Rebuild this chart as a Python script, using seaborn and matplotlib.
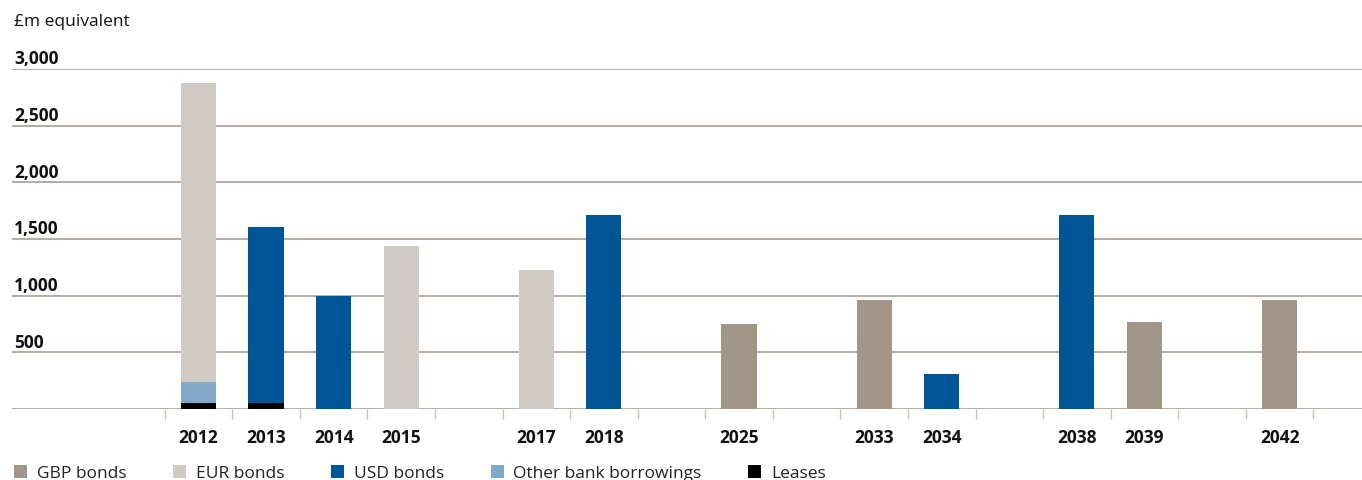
import numpy as np
import pandas as pd
import seaborn as sns
import matplotlib.pyplot as plt
from matplotlib.patches import Patch

# maturity years (with empty slots on the axis where no debt matures)
slots = ["2012", "2013", "2014", "2015", None, "2017", "2018", None, "2025", None,
         "2033", "2034", None, "2038", "2039", None, "2042"]
years = ["2012", "2013", "2014", "2015", "2017", "2018", "2025", "2033", "2034", "2038", "2039", "2042"]

# £m equivalent
gbp_bonds = [0, 0, 0, 0, 0, 0, 750, 965, 0, 0, 770, 965]
eur_bonds = [2640, 0, 0, 1440, 1225, 0, 0, 0, 0, 0, 0, 0]
usd_bonds = [0, 1555, 1000, 0, 0, 1715, 0, 0, 310, 1715, 0, 0]
other_bank = [185, 0, 0, 0, 0, 0, 0, 0, 0, 0, 0, 0]
leases = [50, 50, 0, 0, 0, 0, 0, 0, 0, 0, 0, 0]

series_names = ["GBP bonds", "EUR bonds", "USD bonds", "Other bank borrowings", "Leases"]
colours = {"GBP bonds": "#a19588", "EUR bonds": "#cfcac4", "USD bonds": "#005596",
           "Other bank borrowings": "#7fa8c9", "Leases": "#000000"}

sns.set_theme(style="white")
plt.rcParams["font.family"] = ["Open Sans", "DejaVu Sans"]

# stack bottom -> top : leases, other, then the bonds
stack = [("Leases", leases), ("Other bank borrowings", other_bank),
         ("GBP bonds", gbp_bonds), ("EUR bonds", eur_bonds), ("USD bonds", usd_bonds)]
df = pd.DataFrame({"year": years})
running = np.zeros(len(years))
for name, vals in stack:
    running = running + np.array(vals)
    df[name] = np.where(np.array(vals) > 0, running, np.nan)

order = [s if s else f"_gap{i}" for i, s in enumerate(slots)]

fig = plt.figure(figsize=(13.62, 4.81), dpi=100)
ax = fig.add_axes([12 / 1362, 1 - 410 / 481, 1350 / 1362, 340 / 481])

# draw tallest cumulative layer first, then overlay the lower parts
for name, _ in reversed(stack):
    sub = df.dropna(subset=[name])
    sns.barplot(data=sub, x="year", y=name, order=order, color=colours[name],
                width=0.52, saturation=1, linewidth=0, ax=ax, zorder=3)

ax.set_ylim(0, 3000)
ax.set_xlim(-2.76, 17.22)
ax.set_yticks(np.arange(0, 3001, 500))
ax.yaxis.grid(True, color="#a89e94", linewidth=1.2)
ax.xaxis.grid(False)
ax.set_axisbelow(True)
for s in ax.spines.values():
    s.set_visible(False)

ax.set_xticks(range(len(slots)))
ax.set_xticklabels([s or "" for s in slots], fontsize=12.5, fontweight="bold", color="#111111")
ax.set_xticks(np.arange(-0.5, len(slots), 1), minor=True)
ax.tick_params(axis="x", which="major", length=0, pad=13.5)
ax.tick_params(axis="x", which="minor", bottom=True, length=7, width=1, color="#c9c3bd")
ax.tick_params(axis="y", left=False, labelleft=False)
ax.set_xlabel("")
ax.set_ylabel("")

for v in range(500, 3001, 500):
    ax.annotate(f"{v:,}", xy=(0, v), xycoords=("axes fraction", "data"),
                xytext=(1.5, 1.2), textcoords="offset points", va="bottom", ha="left",
                fontsize=12.5, fontweight="bold", color="#111111")

fig.text(14 / 1362, 1 - 22 / 481, "£m equivalent", fontsize=12.5, va="center", ha="left",
         color="#111111")

handles = [Patch(facecolor=colours[n], edgecolor="none") for n in series_names]
fig.legend(handles, series_names, loc="center left", bbox_to_anchor=(14 / 1362, 1 - 474 / 481),
           ncol=5, frameon=False, fontsize=12.5, handlelength=0.75, handleheight=0.75,
           handletextpad=0.55, columnspacing=2.7, borderpad=0, borderaxespad=0,
           labelcolor="#222222")

fig.savefig("out.png", dpi=100)
